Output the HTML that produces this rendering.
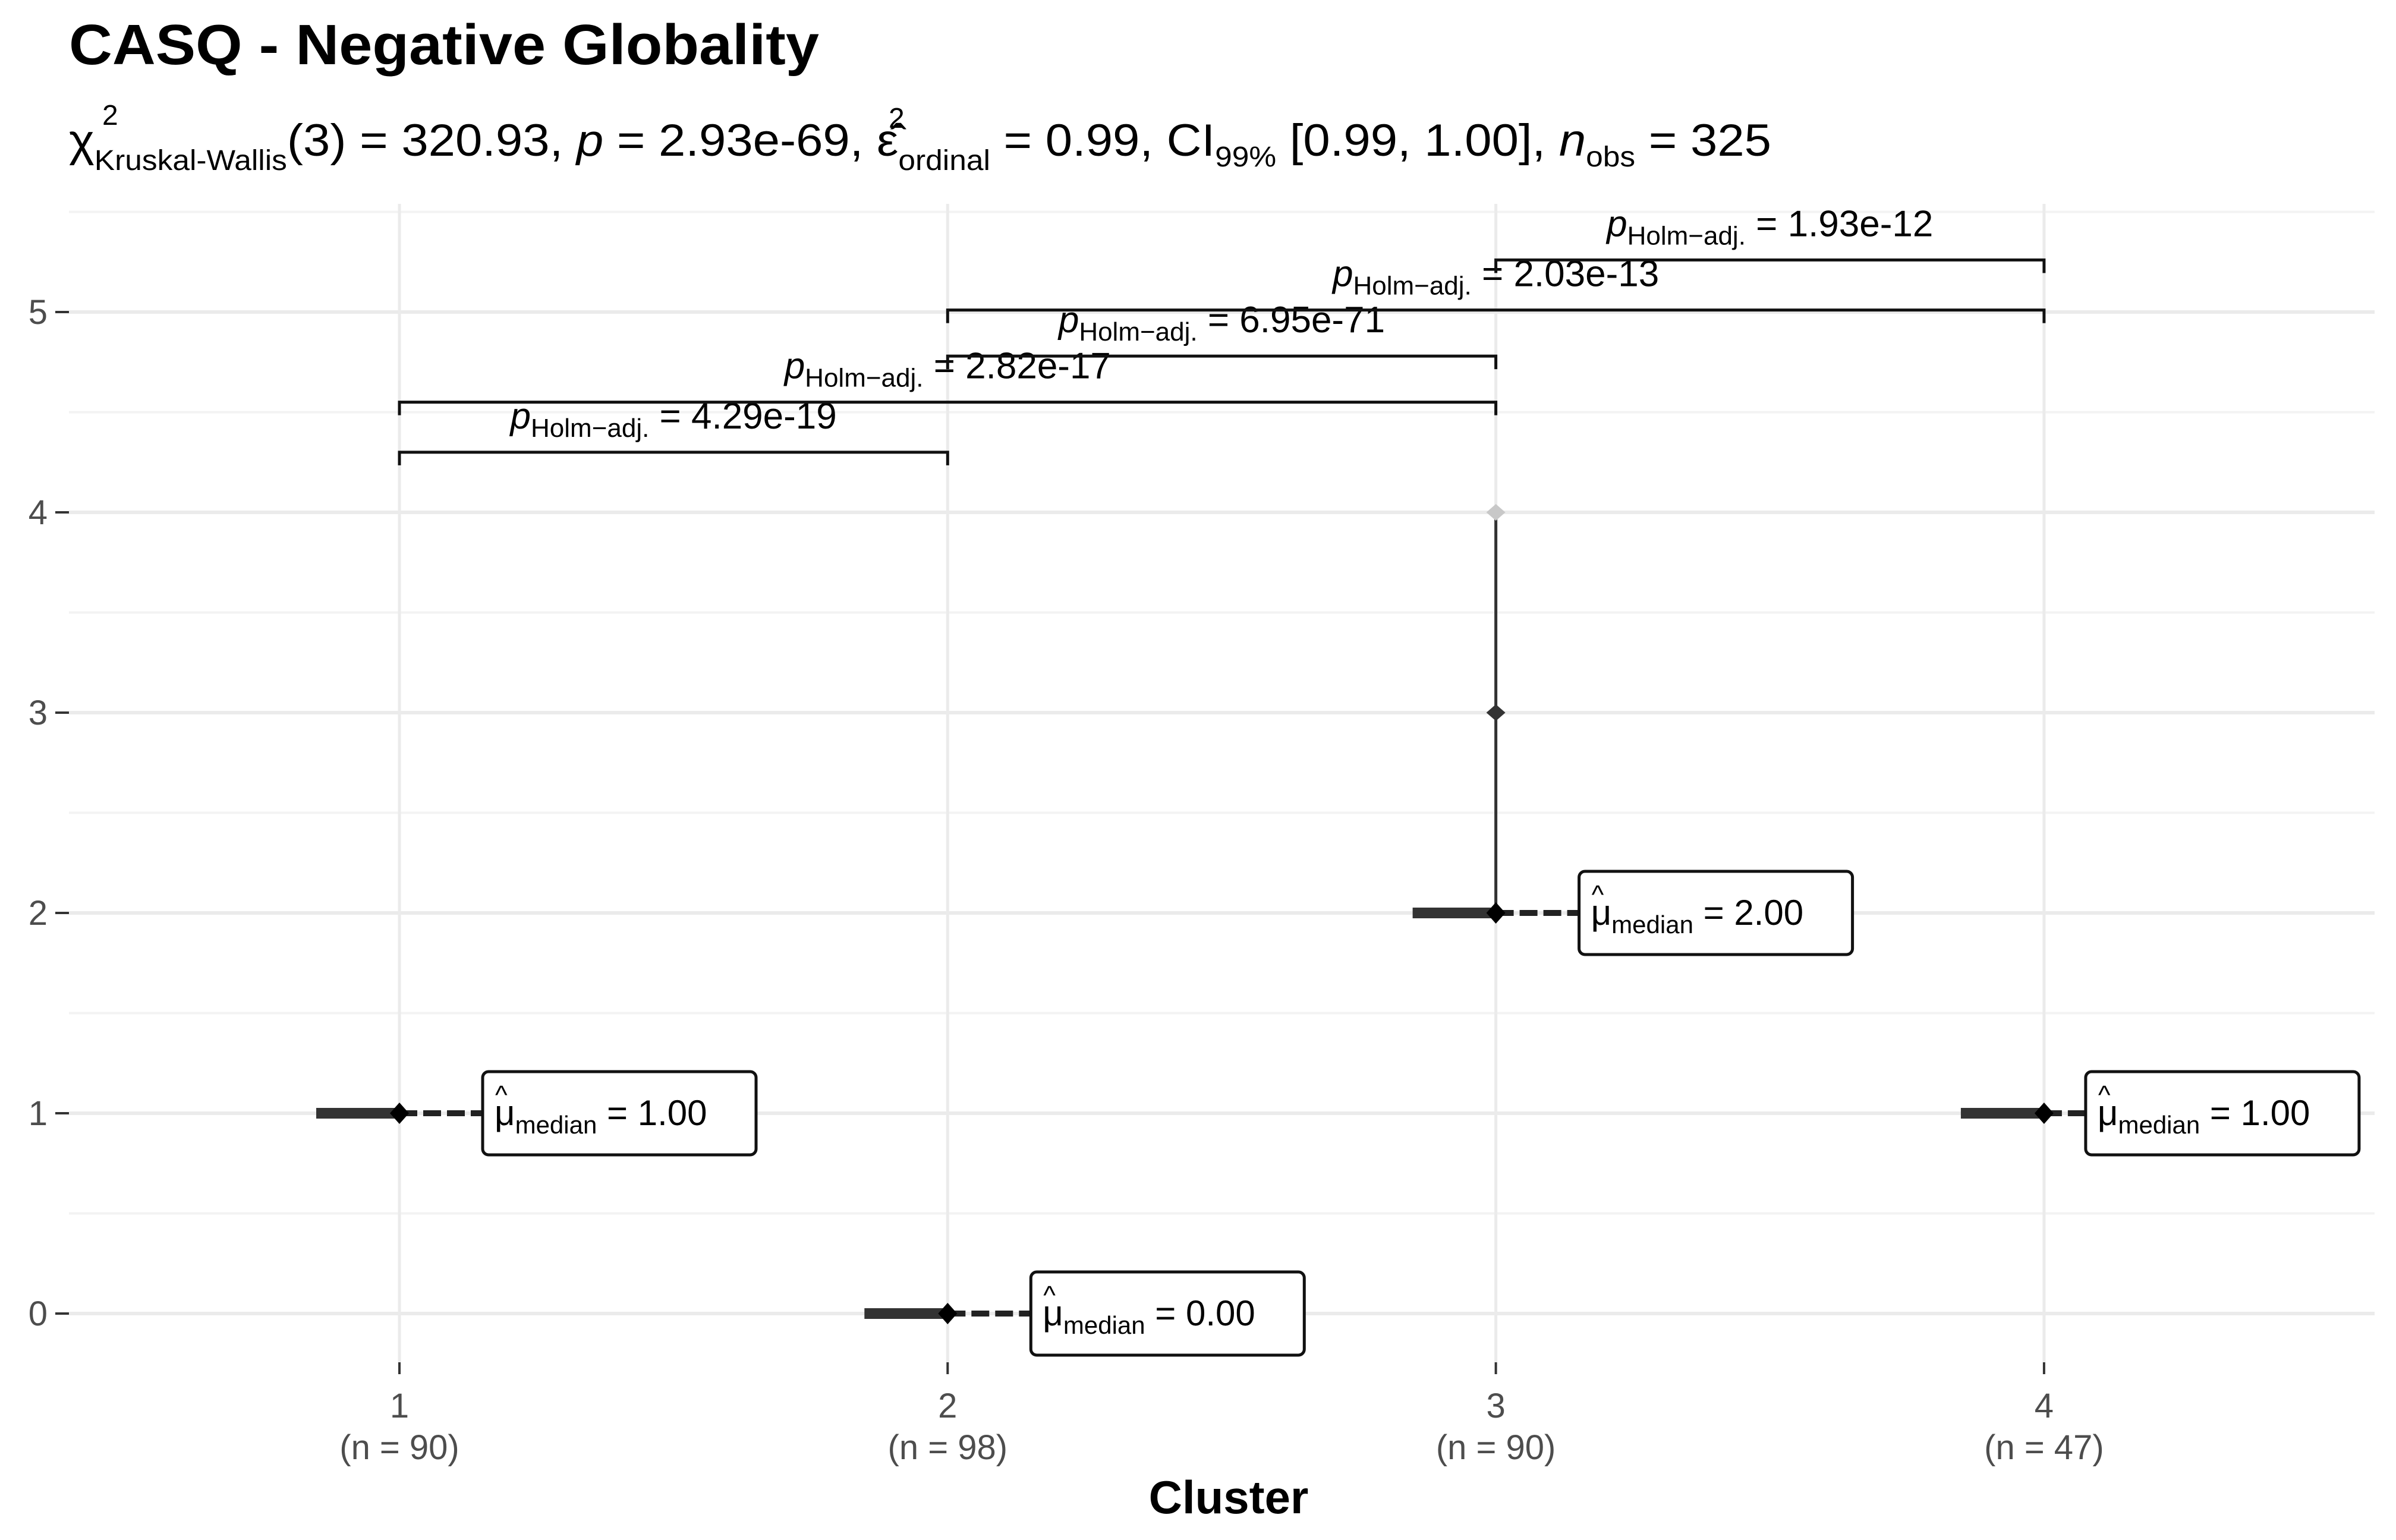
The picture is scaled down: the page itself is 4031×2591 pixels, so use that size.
<!DOCTYPE html>
<html><head><meta charset="utf-8"><style>
html,body{margin:0;padding:0;background:#fff}
svg{display:block;font-family:"Liberation Sans",sans-serif}
</style></head><body>
<svg id="chart" width="4031" height="2591" viewBox="0 0 4031 2591">
<rect width="4031" height="2591" fill="#fff"/>
<text x="116" y="108" font-size="96" font-weight="bold" fill="#000" textLength="1262" lengthAdjust="spacingAndGlyphs">CASQ - Negative Globality</text>
<text x="116" y="262" font-size="76" fill="#000" textLength="2864" lengthAdjust="spacingAndGlyphs">χ<tspan font-size="48" dy="24">Kruskal-Wallis</tspan><tspan dy="-24">(3) = 320.93, </tspan><tspan font-style="italic">p</tspan> = 2.93e-69, ε̂<tspan font-size="48" dy="24">ordinal</tspan><tspan dy="-24"> = 0.99, CI</tspan><tspan font-size="48" dy="18">99%</tspan><tspan dy="-18"> [0.99, 1.00], </tspan><tspan font-style="italic">n</tspan><tspan font-size="48" dy="18">obs</tspan><tspan dy="-18"> = 325</tspan></text>
<text x="172" y="210" font-size="48" fill="#000">2</text>
<text x="1495" y="215" font-size="48" fill="#000">2</text>
<g id="grid"></g>
<g id="axes"></g>
<g id="marks"></g>
<g id="brackets"></g>
<text x="2067" y="2546" font-size="78" font-weight="bold" text-anchor="middle" fill="#000">Cluster</text>
</svg>
<script>
const categories = ["1","2","3","4"];
const sampleSizes = [90, 98, 90, 47];
const medians = [1, 0, 2, 1];
const medianLabels = ["1.00","0.00","2.00","1.00"];
const yTicks = [0,1,2,3,4,5];
const cluster3Points = [2, 3, 4];
const pairFrom = [1, 1, 2, 2, 3];
const pairTo = [2, 3, 3, 4, 4];
const pairY = [4.30, 4.55, 4.78, 5.01, 5.26];
const pairP = ["4.29e-19","2.82e-17","6.95e-71","2.03e-13","1.93e-12"];

const NS = "http://www.w3.org/2000/svg";
const PL = 116, PR = 3995, PT = 343, PB = 2292;
const xs = c => 672 + (c - 1) * 922.3;
const ys = v => 2210 - v * 337;
function mk(parent, tag, attrs) {
  const e = document.createElementNS(NS, tag);
  for (const k in attrs) e.setAttribute(k, attrs[k]);
  document.getElementById(parent).appendChild(e);
  return e;
}
for (let v = 0.5; v <= 5.5; v += 1) {
  const l = mk("grid", "line", {x1: PL, x2: PR, y1: ys(v), y2: ys(v), stroke: "#f3f3f3", "stroke-width": 4});
  
  
}
yTicks.forEach(v => {
  const l = mk("grid", "line", {x1: PL, x2: PR, y1: ys(v), y2: ys(v), stroke: "#ebebeb", "stroke-width": 6});
  
  
  const t = mk("axes", "line", {x1: 93, x2: 116, y1: ys(v), y2: ys(v), stroke: "#333", "stroke-width": 4});
  
  
  const tx = mk("axes", "text", {x: 80, y: ys(v) + 20, "font-size": 58, fill: "#4d4d4d", "text-anchor": "end"});
  tx.textContent = v;
  
  
});
categories.forEach((c, i) => {
  const x = xs(i + 1);
  const l = mk("grid", "line", {x1: x, x2: x, y1: PT, y2: PB, stroke: "#ebebeb", "stroke-width": 5});
  
  
  const t = mk("axes", "line", {x1: x, x2: x, y1: PB, y2: PB + 20, stroke: "#333", "stroke-width": 4});
  
  
  const tx = mk("axes", "text", {x: x, y: 2385, "font-size": 58, fill: "#4d4d4d", "text-anchor": "middle"});
  tx.textContent = c;
  
  
  const tn = mk("axes", "text", {x: x, y: 2455, "font-size": 58, fill: "#4d4d4d", "text-anchor": "middle"});
  tn.textContent = "(n = " + sampleSizes[i] + ")";
  
  

  const y = ys(medians[i]);
  const off = i === 3 ? 70 : 140;
  if (i === 2) {
    const vl = mk("marks", "line", {x1: x, x2: x, y1: ys(Math.min(...cluster3Points)), y2: ys(Math.max(...cluster3Points)), stroke: "#333", "stroke-width": 5});
    
    
    cluster3Points.forEach((p, j) => {
      const py = ys(p);
      const col = j === cluster3Points.length - 1 ? "#c8c8c8" : "#333";
      const d = mk("marks", "path", {d: `M${x-16},${py} L${x},${py-14} L${x+16},${py} L${x},${py+14}Z`, fill: col});
      
      
    });
  }
  const thick = mk("marks", "line", {x1: x - 140, x2: x, y1: y, y2: y, stroke: "#333", "stroke-width": 18});
  
  
  const dash = mk("marks", "line", {x1: x, x2: x + off, y1: y, y2: y, stroke: "#222", "stroke-width": 10, "stroke-dasharray": "30 10"});
  
  
  const pt = mk("marks", "path", {d: `M${x-16},${y} L${x},${y-18} L${x+16},${y} L${x},${y+18}Z`, fill: "#000"});
  
  
  const box = mk("marks", "rect", {x: x + off, y: y - 70, width: 460, height: 140, rx: 10, fill: "#fff", stroke: "#111", "stroke-width": 5});
  
  
  const lt = mk("marks", "text", {x: x + off + 20, y: y + 20, "font-size": 60, fill: "#000"});
  lt.innerHTML = 'μ<tspan font-size="42" dy="14">median</tspan><tspan dy="-14"> = ' + medianLabels[i] + '</tspan>';
  
  
  const hat = mk("marks", "text", {x: x + off + 21, y: y - 16, "font-size": 44, fill: "#000"});
  hat.textContent = "^";
  
  
});
pairFrom.forEach((a, i) => {
  const x1 = xs(a), x2 = xs(pairTo[i]), y = ys(pairY[i]);
  const b = mk("brackets", "path", {d: `M${x1},${y+22} L${x1},${y} L${x2},${y} L${x2},${y+22}`, fill: "none", stroke: "#111", "stroke-width": 5});
  
  
  const t = mk("brackets", "text", {x: (x1 + x2) / 2, y: y - 40, "font-size": 62, fill: "#000", "text-anchor": "middle"});
  t.innerHTML = '<tspan font-style="italic">p</tspan><tspan font-size="44" dy="14">Holm−adj.</tspan><tspan dy="-14"> = ' + pairP[i] + '</tspan>';
  
  
});
</script>
</body></html>
